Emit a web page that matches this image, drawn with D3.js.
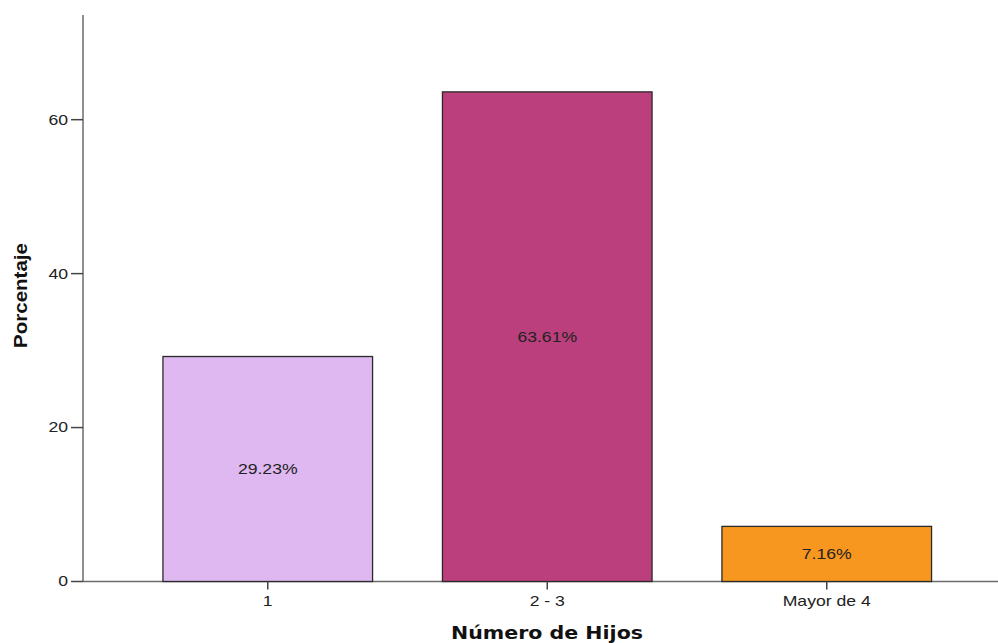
<!DOCTYPE html>
<html>
<head>
<meta charset="utf-8">
<script src="https://cdn.jsdelivr.net/npm/d3@7"></script>
<style>
  body { margin: 0; background: #fff; }
</style>
</head>
<body>
<div id="chart"></div>
<script>
// data
const categories = ["1", "2 - 3", "Mayor de 4"];
const percents = [29.23, 63.61, 7.16];
const barColors = ["#DFB8F1", "#BA3F7C", "#F7971F"];
const yTicks = [0, 20, 40, 60];

const width = 998, height = 643;
const sansFont = "'Liberation Sans', Arial, sans-serif";
const stretch = 1.26; // the reference text is drawn a bit wider than normal

let svg = d3.select("#chart").append("svg")
    .attr("width", width)
    .attr("height", height)
    .style("font-family", sansFont);

let x = d3.scaleBand()
    .domain(categories)
    .range([128, 966.5])
    .paddingInner(0.25)
    .paddingOuter(0.125);

let y = d3.scaleLinear()
    .domain([0, 73.6])
    .range([581.5, 15]);

// axes lines
svg.append("line")
    .attr("x1", 83).attr("x2", 83)
    .attr("y1", y(73.6)).attr("y2", y(0))
    .attr("stroke", "#6b6b6b").attr("stroke-width", 1.5);

svg.append("line")
    .attr("x1", 83).attr("x2", width)
    .attr("y1", y(0)).attr("y2", y(0))
    .attr("stroke", "#6b6b6b").attr("stroke-width", 1.5);

// y ticks
let yt = svg.selectAll(".ytick").data(yTicks).enter().append("g")
    .attr("class", "ytick");
yt.append("line")
    .attr("x1", 71).attr("x2", 83)
    .attr("y1", d => y(d)).attr("y2", d => y(d))
    .attr("stroke", "#444").attr("stroke-width", 1.5);
yt.append("text")
    .attr("transform", d => "translate(68," + y(d) + ") scale(" + stretch + ",1)")
    .attr("dy", "0.35em")
    .attr("text-anchor", "end")
    .attr("font-size", 14)
    .attr("fill", "#222")
    .text(d => d);

// bars
let bars = svg.selectAll(".bar").data(categories).enter().append("g")
    .attr("class", "bar");

bars.append("rect")
    .attr("x", d => x(d))
    .attr("y", (d, i) => y(percents[i]))
    .attr("width", x.bandwidth())
    .attr("height", (d, i) => y(0) - y(percents[i]))
    .attr("fill", (d, i) => barColors[i])
    .attr("stroke", "#2a2a2a")
    .attr("stroke-width", 1.3);

bars.append("text")
    .attr("transform", (d, i) => {
        let cx = x(d) + x.bandwidth() / 2;
        let cy = (y(percents[i]) + y(0)) / 2;
        return "translate(" + cx + "," + cy + ") scale(" + stretch + ",1)";
    })
    .attr("dy", "0.35em")
    .attr("text-anchor", "middle")
    .attr("font-size", 14)
    .attr("fill", "#222")
    .text((d, i) => percents[i].toFixed(2) + "%");

// x ticks
let xt = svg.selectAll(".xtick").data(categories).enter().append("g")
    .attr("class", "xtick");
xt.append("line")
    .attr("x1", d => x(d) + x.bandwidth() / 2)
    .attr("x2", d => x(d) + x.bandwidth() / 2)
    .attr("y1", y(0)).attr("y2", y(0) + 8)
    .attr("stroke", "#444").attr("stroke-width", 1.5);
xt.append("text")
    .attr("transform", d => "translate(" + (x(d) + x.bandwidth() / 2) + ",601) scale(" + stretch + ",1)")
    .attr("dy", "0.35em")
    .attr("text-anchor", "middle")
    .attr("font-size", 14)
    .attr("fill", "#222")
    .text(d => d);

// axis titles
svg.append("text")
    .attr("x", 547).attr("y", 639)
    .attr("text-anchor", "middle")
    .style("font-family", "'DejaVu Sans', Verdana, sans-serif")
    .attr("font-weight", "bold")
    .attr("font-size", 18)
    .attr("textLength", 192)
    .attr("lengthAdjust", "spacingAndGlyphs")
    .attr("fill", "#111")
    .text("Número de Hijos");

svg.append("text")
    .attr("transform", "translate(21,295.5) rotate(-90)")
    .attr("dy", "0.35em")
    .attr("text-anchor", "middle")
    .attr("font-weight", "bold")
    .attr("font-size", 18)
    .attr("textLength", 105)
    .attr("lengthAdjust", "spacingAndGlyphs")
    .attr("fill", "#111")
    .text("Porcentaje");
</script>
</body>
</html>
